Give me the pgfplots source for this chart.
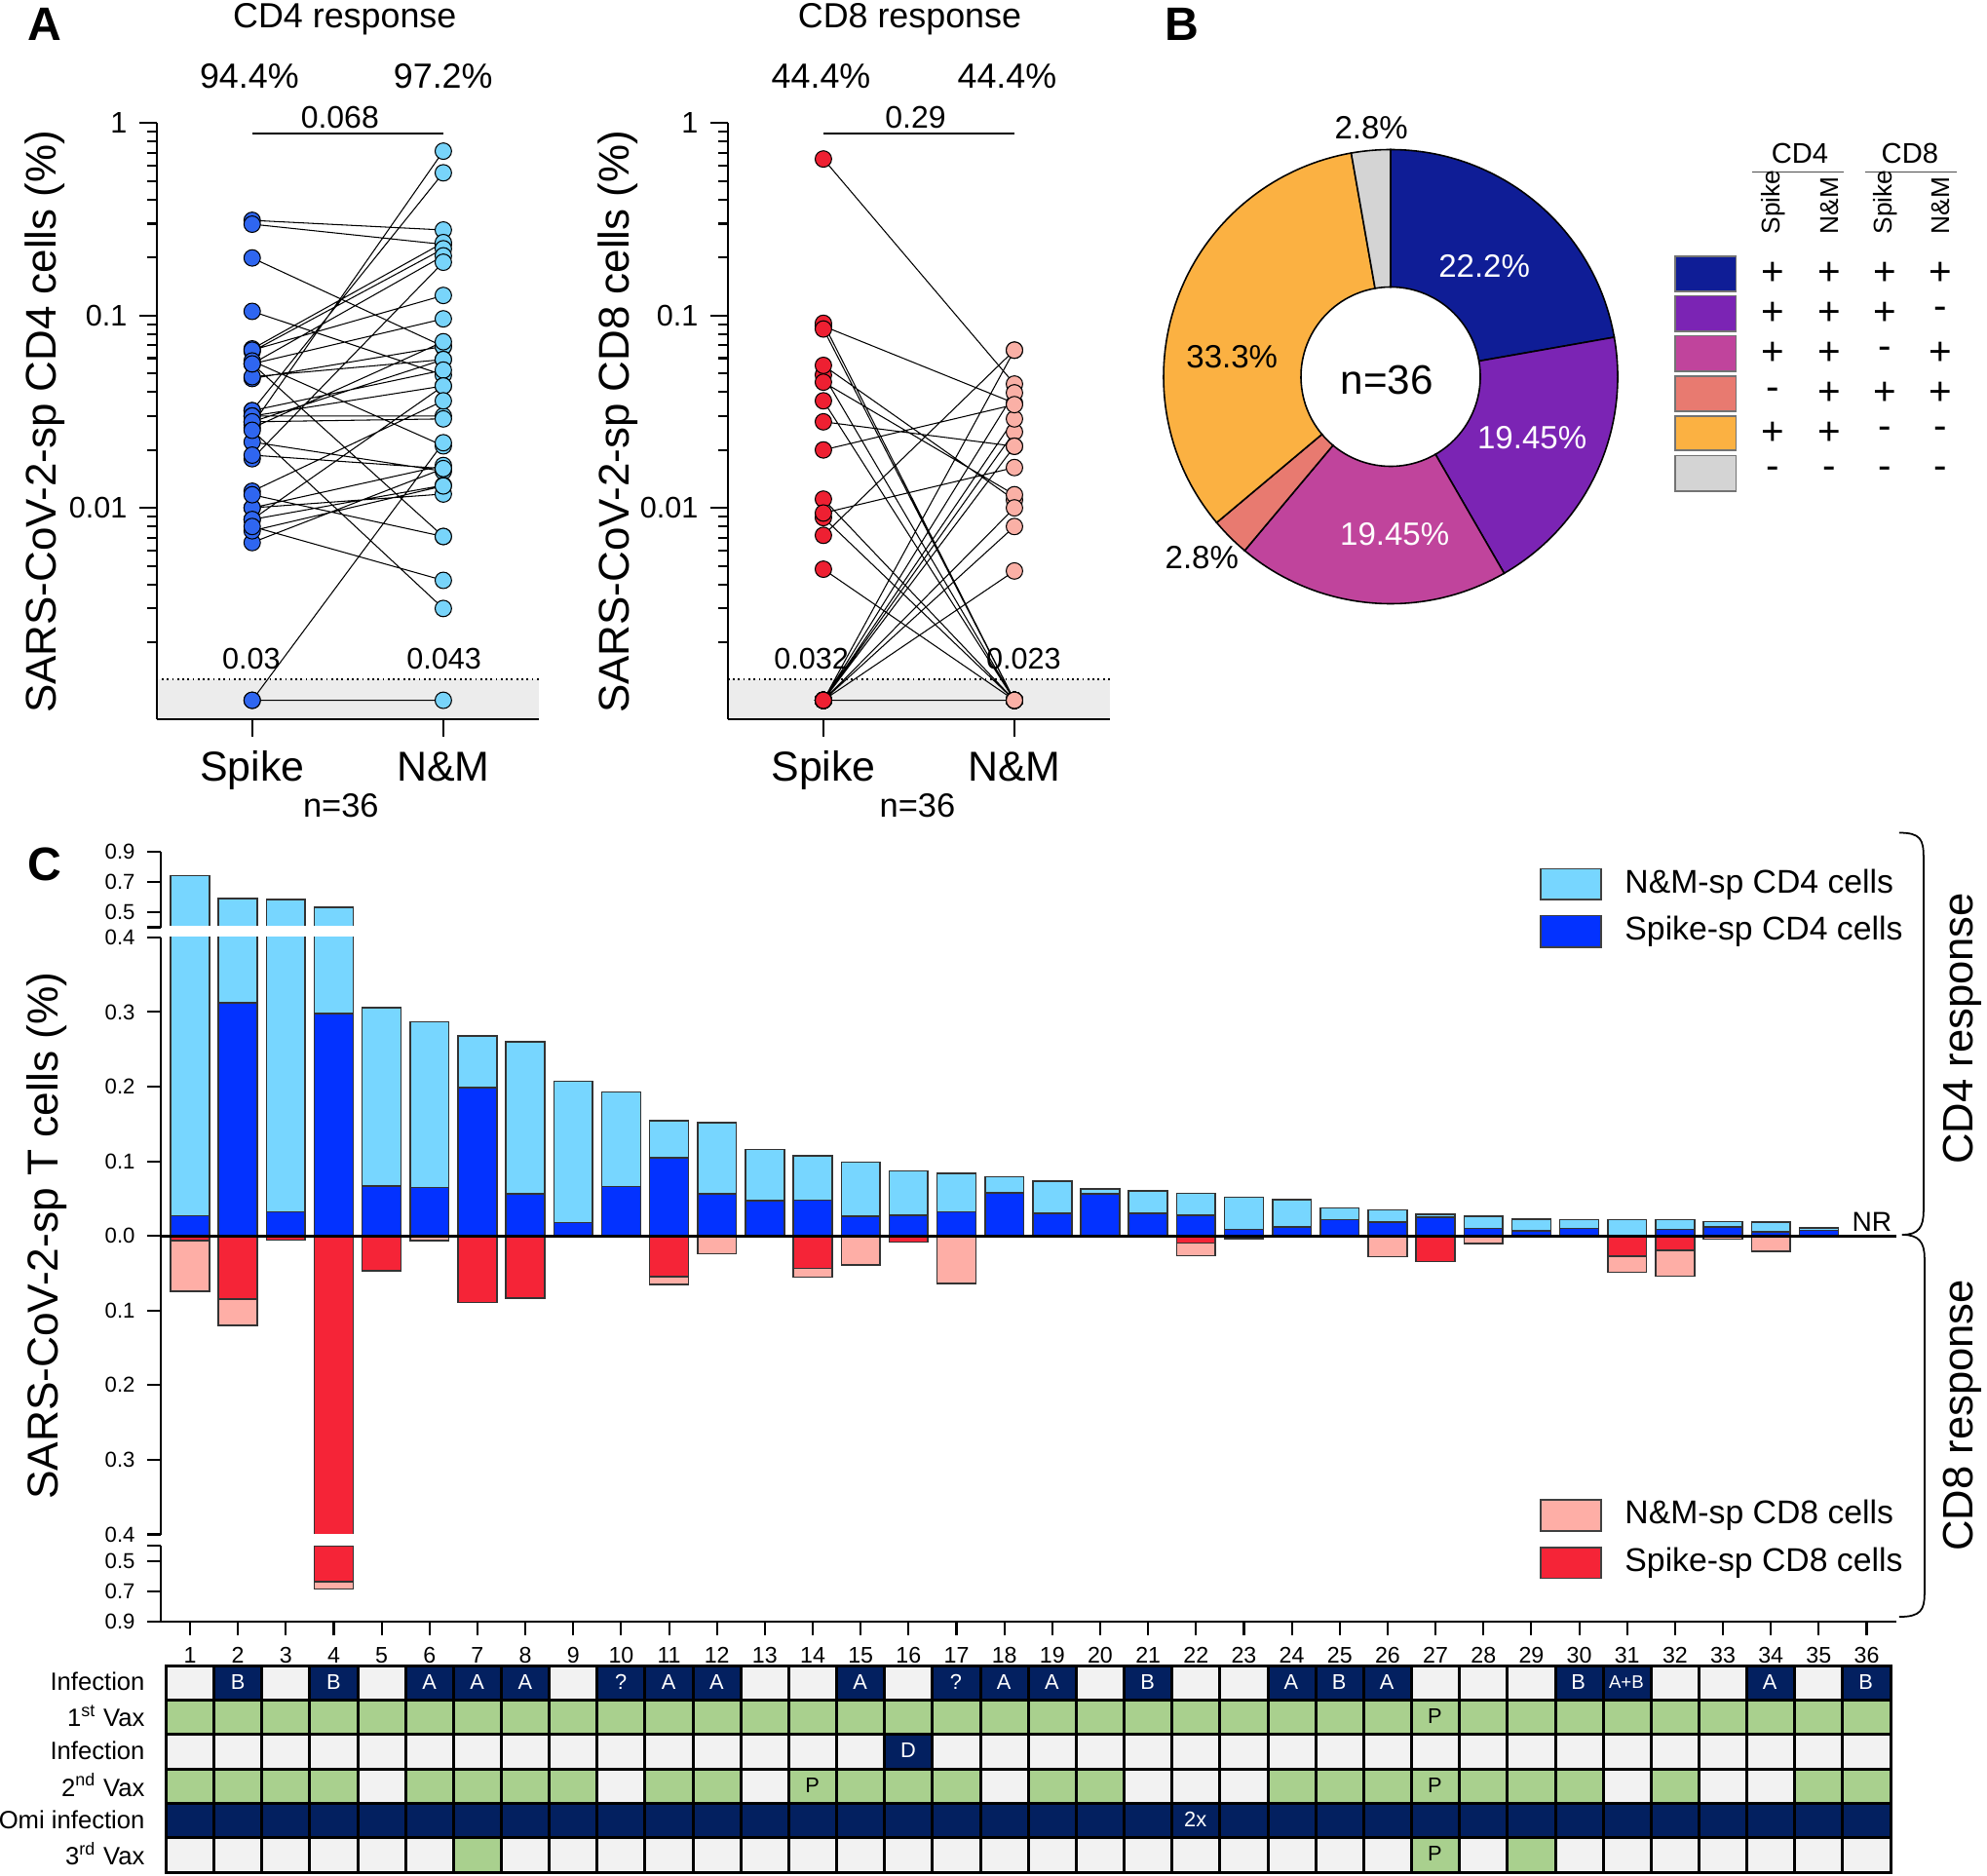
\documentclass[border=0pt]{standalone}
\usepackage{fontspec}
\setmainfont{Liberation Sans}
\usepackage{pgfplots}
\pgfplotsset{compat=1.18}
\usepackage{pgfplotstable}
\newcommand\fs[1]{\fontsize{#1}{#1}\selectfont}
\pgfkeys{/pgf/number format/assume math mode=true}

\definecolor{cdfs}{RGB}{47,102,240}
\definecolor{cdfn}{RGB}{120,212,250}
\definecolor{cdes}{RGB}{238,32,50}
\definecolor{cden}{RGB}{250,176,166}
\definecolor{barNMf}{RGB}{119,214,255}
\definecolor{barSf}{RGB}{3,50,255}
\definecolor{barSe}{RGB}{245,36,55}
\definecolor{barNMe}{RGB}{254,174,166}
\definecolor{pnavy}{RGB}{15,29,150}
\definecolor{ppurple}{RGB}{123,36,180}
\definecolor{pmag}{RGB}{192,68,156}
\definecolor{psal}{RGB}{232,122,112}
\definecolor{porange}{RGB}{251,177,66}
\definecolor{pgrey}{RGB}{212,212,212}
\definecolor{tgray}{RGB}{242,242,242}
\definecolor{tnavy}{RGB}{3,32,96}
\definecolor{tgreen}{RGB}{169,208,142}

\tikzset{tw/.style={text=white, font=\fs{6.2}}, tb/.style={text=black, font=\fs{6.2}}}

% Panel A, CD4: pairs Spike (x=1) -> N&M (x=2); NR plotted at 0.001
\pgfplotstableread{
x y
1 0.027
2 0.714
2 nan
1 0.312
2 0.278
2 nan
1 0.032
2 0.551
2 nan
1 0.298
2 0.234
2 nan
1 0.067
2 0.239
2 nan
1 0.065
2 0.222
2 nan
1 0.199
2 0.069
2 nan
1 0.056
2 0.204
2 nan
1 0.018
2 0.189
2 nan
1 0.066
2 0.127
2 nan
1 0.105
2 0.049
2 nan
1 0.056
2 0.096
2 nan
1 0.047
2 0.069
2 nan
1 0.048
2 0.059
2 nan
1 0.026
2 0.073
2 nan
1 0.028
2 0.059
2 nan
1 0.032
2 0.052
2 nan
1 0.058
2 0.021
2 nan
1 0.030
2 0.043
2 nan
1 0.056
2 0.0071
2 nan
1 0.030
2 0.030
2 nan
1 0.028
2 0.029
2 nan
1 0.0087
2 0.043
2 nan
1 0.0122
2 0.036
2 nan
1 0.022
2 0.0155
2 nan
1 0.0188
2 0.016
2 nan
1 0.0253
2 0.003
2 nan
1 0.010
2 0.0166
2 nan
1 0.0066
2 0.016
2 nan
1 0.010
2 0.0118
2 nan
1 0.001
2 0.0218
2 nan
1 0.0087
2 0.0131
2 nan
1 0.0117
2 0.0071
2 nan
1 0.0076
2 0.013
2 nan
1 0.0080
2 0.0042
2 nan
1 0.001
2 0.001
}\cdfour

% Panel A, CD8
\pgfplotstableread{
x y
1 0.0072
2 0.066
2 nan
1 0.088
2 0.035
2 nan
1 0.0111
2 0.001
2 nan
1 0.65
2 0.044
2 nan
1 0.049
2 0.001
2 nan
1 0.001
2 0.008
2 nan
1 0.091
2 0.001
2 nan
1 0.085
2 0.001
2 nan
1 0.001
2 0.001
2 nan
1 0.001
2 0.001
2 nan
1 0.055
2 0.011
2 nan
1 0.001
2 0.0248
2 nan
1 0.001
2 0.001
2 nan
1 0.045
2 0.0117
2 nan
1 0.001
2 0.0396
2 nan
1 0.0089
2 0.001
2 nan
1 0.001
2 0.066
2 nan
1 0.001
2 0.001
2 nan
1 0.001
2 0.001
2 nan
1 0.001
2 0.001
2 nan
1 0.001
2 0.001
2 nan
1 0.0094
2 0.0162
2 nan
1 0.0048
2 0.001
2 nan
1 0.001
2 0.001
2 nan
1 0.001
2 0.001
2 nan
1 0.001
2 0.029
2 nan
1 0.036
2 0.001
2 nan
1 0.001
2 0.010
2 nan
1 0.001
2 0.001
2 nan
1 0.001
2 0.001
2 nan
1 0.028
2 0.0209
2 nan
1 0.020
2 0.0344
2 nan
1 0.001
2 0.0047
2 nan
1 0.001
2 0.0209
2 nan
1 0.001
2 0.001
2 nan
1 0.001
2 0.001
}\cdeight

% Panel C: per subject CD4 spike, CD4 N&M, CD8 spike, CD8 N&M
\pgfplotstableread{
subj s4 n4 s8 n8
1 0.027 0.714 0.0065 0.068
2 0.312 0.278 0.085 0.035
3 0.032 0.551 0.0057 0
4 0.298 0.234 0.638 0.047
5 0.067 0.239 0.0465 0
6 0.065 0.222 0 0.0065
7 0.199 0.069 0.089 0
8 0.056 0.204 0.083 0
9 0.018 0.189 0 0
10 0.066 0.127 0 0
11 0.105 0.049 0.055 0.010
12 0.056 0.096 0 0.024
13 0.047 0.069 0 0
14 0.048 0.059 0.0435 0.012
15 0.026 0.073 0 0.039
16 0.028 0.059 0.008 0
17 0.032 0.052 0 0.064
18 0.058 0.021 0 0
19 0.030 0.043 0 0
20 0.056 0.007 0 0
21 0.030 0.030 0 0
22 0.028 0.029 0.0095 0.017
23 0.0087 0.043 0.004 0
24 0.0122 0.036 0 0
25 0.022 0.0155 0 0
26 0.0188 0.016 0 0.028
27 0.0253 0.004 0.0343 0
28 0.010 0.0166 0 0.0104
29 0.0065 0.016 0 0
30 0.010 0.0118 0 0
31 0 0.0218 0.0269 0.0218
32 0.0087 0.0131 0.0196 0.0344
33 0.0117 0.0075 0 0.0043
34 0.0052 0.013 0 0.0204
35 0.0074 0.0036 0 0
36 0 0 0 0
}\barsC

% Panel C table: e = none, n = infection, g = vaccination
\pgfplotstableread{
x r1 r2 r3 r4 r5 r6
1 e g e g n e
2 n g e g n e
3 e g e g n e
4 n g e g n e
5 e g e e n e
6 n g e g n e
7 n g e g n g
8 n g e g n e
9 e g e g n e
10 n g e e n e
11 n g e g n e
12 n g e g n e
13 e g e e n e
14 e g e g n e
15 n g e g n e
16 e g n g n e
17 n g e g n e
18 n g e e n e
19 n g e g n e
20 e g e g n e
21 n g e e n e
22 e g e e n e
23 e g e e n e
24 n g e g n e
25 n g e g n e
26 n g e g n e
27 e g e g n g
28 e g e g n e
29 e g e g n g
30 n g e g n e
31 n g e e n e
32 e g e g n e
33 e g e e n e
34 n g e e n e
35 e g e g n e
36 n g e g n e
}\tabC

\begin{document}
\begin{tikzpicture}
\useasboundingbox (0,0) rectangle (20.39cm,19.24cm);

% ---------------- Panel A: CD4
\begin{axis}[scale only axis, anchor=south west, at={(1.607cm,11.863cm)},
    width=3.923cm, height=6.115cm,
    ymode=log, xmin=0.5, xmax=2.5, ymin=0.0008, ymax=1,
    axis x line*=bottom, axis y line*=left,
    xtick={1,2}, xticklabels={},
    ytick={0.01,0.1,1}, yticklabels={0.01,0.1,1},
    minor ytick={0.002,0.003,0.004,0.005,0.006,0.007,0.008,0.009,0.02,0.03,0.04,0.05,0.06,0.07,0.08,0.09,0.2,0.3,0.4,0.5,0.6,0.7,0.8,0.9},
    tick align=outside, major tick length=0.18cm, minor tick length=0.1cm,
    tick style={black, line width=0.6pt},
    axis line style={line width=0.6pt},
    y tick label style={font=\fs{8.7}},
    axis on top, clip=false, unbounded coords=jump]
\fill[gray!15] (axis cs:0.5,0.0008) rectangle (axis cs:2.5,0.00129);
\draw[densely dotted, line width=0.5pt] (axis cs:0.5,0.00129) -- (axis cs:2.5,0.00129);
\addplot[black, line width=0.3pt, no marks] table[x=x,y=y] {\cdfour};
\addplot[only marks, mark=*, mark size=2.4pt, mark options={fill=cdfs, draw=black, line width=0.3pt}, restrict x to domain=0.9:1.1] table[x=x,y=y] {\cdfour};
\addplot[only marks, mark=*, mark size=2.4pt, mark options={fill=cdfn, draw=black, line width=0.3pt}, restrict x to domain=1.9:2.1] table[x=x,y=y] {\cdfour};
\draw[line width=0.45pt] (axis cs:1,0.88) -- (axis cs:2,0.88);
\end{axis}

% ---------------- Panel A: CD8
\begin{axis}[scale only axis, anchor=south west, at={(7.469cm,11.863cm)},
    width=3.921cm, height=6.115cm,
    ymode=log, xmin=0.5, xmax=2.5, ymin=0.0008, ymax=1,
    axis x line*=bottom, axis y line*=left,
    xtick={1,2}, xticklabels={},
    ytick={0.01,0.1,1}, yticklabels={0.01,0.1,1},
    minor ytick={0.002,0.003,0.004,0.005,0.006,0.007,0.008,0.009,0.02,0.03,0.04,0.05,0.06,0.07,0.08,0.09,0.2,0.3,0.4,0.5,0.6,0.7,0.8,0.9},
    tick align=outside, major tick length=0.18cm, minor tick length=0.1cm,
    tick style={black, line width=0.6pt},
    axis line style={line width=0.6pt},
    y tick label style={font=\fs{8.7}},
    axis on top, clip=false, unbounded coords=jump]
\fill[gray!15] (axis cs:0.5,0.0008) rectangle (axis cs:2.5,0.00129);
\draw[densely dotted, line width=0.5pt] (axis cs:0.5,0.00129) -- (axis cs:2.5,0.00129);
\addplot[black, line width=0.3pt, no marks] table[x=x,y=y] {\cdeight};
\addplot[only marks, mark=*, mark size=2.4pt, mark options={fill=cdes, draw=black, line width=0.3pt}, restrict x to domain=0.9:1.1] table[x=x,y=y] {\cdeight};
\addplot[only marks, mark=*, mark size=2.4pt, mark options={fill=cden, draw=black, line width=0.3pt}, restrict x to domain=1.9:2.1] table[x=x,y=y] {\cdeight};
\draw[line width=0.45pt] (axis cs:1,0.88) -- (axis cs:2,0.88);
\end{axis}

% ---------------- Panel C: upper segment (0.4 - 0.9)
\begin{axis}[scale only axis, anchor=south west, at={(1.646cm,9.725cm)},
    width=17.814cm, height=0.775cm, xmin=0.382, xmax=36.62, ymin=0.4, ymax=0.9,
    axis y line*=left, axis x line=none, xtick=\empty,
    ytick={0.4,0.5,0.7,0.9}, yticklabels={,0.5,0.7,0.9},
    tick align=outside, major tick length=0.137cm,
    tick style={black, line width=0.6pt}, axis line style={line width=0.6pt},
    y tick label style={font=\fs{6.3}}]
\addplot[ybar, bar shift=0pt, bar width=0.81, draw=black!80, line width=0.45pt, fill=barNMf, restrict y to domain=0.401:5] table[x=subj, y expr=\thisrow{s4}+\thisrow{n4}] {\barsC};
\addplot[ybar, bar shift=0pt, bar width=0.81, draw=black!80, line width=0.45pt, fill=barSf, restrict y to domain=0.401:5] table[x=subj, y=s4] {\barsC};
\end{axis}

% ---------------- Panel C: main segment (-0.4 - 0.4)
\begin{axis}[scale only axis, anchor=south west, at={(1.646cm,3.495cm)},
    width=17.814cm, height=6.127cm, xmin=0.382, xmax=36.62, ymin=-0.4, ymax=0.4,
    axis y line*=left, axis x line=none, xtick=\empty,
    ytick={-0.4,-0.3,-0.2,-0.1,0,0.1,0.2,0.3,0.4},
    yticklabels={0.4,0.3,0.2,0.1,0.0,0.1,0.2,0.3,0.4},
    tick align=outside, major tick length=0.137cm,
    tick style={black, line width=0.6pt}, axis line style={line width=0.6pt},
    y tick label style={font=\fs{6.3}}]
\addplot[ybar, bar shift=0pt, bar width=0.81, draw=black!80, line width=0.45pt, fill=barNMf] table[x=subj, y expr=\thisrow{s4}+\thisrow{n4}] {\barsC};
\addplot[ybar, bar shift=0pt, bar width=0.81, draw=black!80, line width=0.45pt, fill=barSf] table[x=subj, y=s4] {\barsC};
\addplot[ybar, bar shift=0pt, bar width=0.81, draw=black!80, line width=0.45pt, fill=barNMe] table[x=subj, y expr=-\thisrow{s8}-\thisrow{n8}] {\barsC};
\addplot[ybar, bar shift=0pt, bar width=0.81, draw=black!80, line width=0.45pt, fill=barSe] table[x=subj, y expr=-\thisrow{s8}] {\barsC};
\draw[line width=0.8pt] (axis cs:0.382,0) -- (axis cs:36.62,0);
\end{axis}

% ---------------- Panel C: lower segment (-0.9 - -0.4)
\begin{axis}[scale only axis, anchor=south west, at={(1.646cm,2.60cm)},
    width=17.814cm, height=0.78cm, xmin=0.382, xmax=36.62, ymin=-0.9, ymax=-0.4,
    axis y line*=left, axis x line*=bottom, xtick={1,...,36},
    ytick={-0.9,-0.7,-0.5,-0.4}, yticklabels={0.9,0.7,0.5,},
    tick align=outside, major tick length=0.137cm,
    tick style={black, line width=0.6pt}, axis line style={line width=0.6pt},
    y tick label style={font=\fs{6.3}}, x tick label style={font=\fs{6.6}}]
\addplot[ybar, bar shift=0pt, bar width=0.81, draw=black!80, line width=0.45pt, fill=barNMe, restrict y to domain=-5:-0.401] table[x=subj, y expr=-\thisrow{s8}-\thisrow{n8}] {\barsC};
\addplot[ybar, bar shift=0pt, bar width=0.81, draw=black!80, line width=0.45pt, fill=barSe, restrict y to domain=-5:-0.401] table[x=subj, y expr=-\thisrow{s8}] {\barsC};
\end{axis}

% ---------------- Panel C: table
\begin{axis}[scale only axis, anchor=south west, at={(1.646cm,0.03cm)},
  width=17.814cm, height=2.12cm, xmin=0.382, xmax=36.62, ymin=0.5, ymax=6.5,
  y dir=reverse, axis lines=none, clip=false]
\pgfplotsinvokeforeach{1,...,6}{
\addplot[scatter, only marks, point meta=explicit symbolic,
  scatter/classes={e={mark=square*, draw=black, fill=tgray}, n={mark=square*, draw=black, fill=tnavy}, g={mark=square*, draw=black, fill=tgreen}},
  mark size=5.027pt, mark options={line width=0.85pt, xscale=1.3914}]
  table[x=x, y expr=#1, meta=r#1] {\tabC};
}
\end{axis}

% ---------------- Panel B: donut
\begin{scope}[shift={(14.27cm,15.375cm)}]
\gdef\angstart{90}
\foreach \v/\c in {8/pnavy,7/ppurple,7/pmag,1/psal,12/porange,1/pgrey}{
  \pgfmathsetmacro\angend{\angstart-10*\v}
  \filldraw[fill=\c, draw=black, line width=0.45pt]
    (\angstart:0.92cm) -- (\angstart:2.33cm)
    arc[start angle=\angstart, end angle=\angend, radius=2.33cm]
    -- (\angend:0.92cm)
    arc[start angle=\angend, end angle=\angstart, radius=0.92cm] -- cycle;
  \global\let\angstart\angend
}
\end{scope}

% ---------------- annotations in pixel coordinates (y downward)
\begin{scope}[x=0.01cm, y=-0.01cm, shift={(0cm,19.24cm)}]
\node[font=\fs{13.7}\bfseries] at (46,25) {A};
\node[font=\fs{13.7}\bfseries] at (1214,25) {B};
\node[font=\fs{13.7}\bfseries] at (46,887) {C};

\node[font=\fs{10.2}, anchor=base] at (354,28.5) {CD4 response};
\node[font=\fs{10.2}, anchor=base] at (934,28.5) {CD8 response};
\node[font=\fs{10.2}, anchor=base] at (256,90.5) {94.4\%};
\node[font=\fs{10.2}, anchor=base] at (455,90.5) {97.2\%};
\node[font=\fs{10.2}, anchor=base] at (843,90.5) {44.4\%};
\node[font=\fs{10.2}, anchor=base] at (1034,90.5) {44.4\%};
\node[font=\fs{9.1}, anchor=base] at (349,131.6) {0.068};
\node[font=\fs{9.1}, anchor=base] at (940,131.6) {0.29};
\node[font=\fs{8.7}, anchor=base] at (258,686.7) {0.03};
\node[font=\fs{8.7}, anchor=base] at (456,686.7) {0.043};
\node[font=\fs{8.7}, anchor=base] at (833,686.7) {0.032};
\node[font=\fs{8.7}, anchor=base] at (1051,686.7) {0.023};
\node[font=\fs{12.2}, anchor=base] at (259,801.9) {Spike};
\node[font=\fs{12.2}, anchor=base] at (455,801.9) {N\&M};
\node[font=\fs{12.2}, anchor=base] at (845.6,801.9) {Spike};
\node[font=\fs{12.2}, anchor=base] at (1041.6,801.9) {N\&M};
\node[font=\fs{9.8}, anchor=base] at (350,839) {n=36};
\node[font=\fs{9.8}, anchor=base] at (942,839) {n=36};
\node[font=\fs{12.5}, rotate=90] at (46,433) {SARS-CoV-2-sp CD4 cells (\%)};
\node[font=\fs{12.5}, rotate=90] at (634,433) {SARS-CoV-2-sp CD8 cells (\%)};

\node[font=\fs{9.4}, text=white] at (1524,273) {22.2\%};
\node[font=\fs{9.4}, text=white] at (1573,449) {19.45\%};
\node[font=\fs{9.4}, text=white] at (1432,548) {19.45\%};
\node[font=\fs{9.4}] at (1265,366) {33.3\%};
\node[font=\fs{9.4}] at (1408,131) {2.8\%};
\node[font=\fs{9.4}] at (1234,572) {2.8\%};
\node[font=\fs{12}] at (1424,390) {n=36};

\node[font=\fs{8.3}] at (1848,158) {CD4};
\node[font=\fs{8.3}] at (1961,158) {CD8};
\draw[black!70, line width=0.5pt] (1799,176.5) -- (1893,176.5);
\draw[black!70, line width=0.5pt] (1915,176.5) -- (2009,176.5);
\node[font=\fs{7.5}, rotate=90, anchor=west] at (1821,253) {Spike};
\node[font=\fs{7.5}, rotate=90, anchor=west] at (1879,253) {N\&M};
\node[font=\fs{7.5}, rotate=90, anchor=west] at (1936,253) {Spike};
\node[font=\fs{7.5}, rotate=90, anchor=west] at (1993,253) {N\&M};
\foreach \yt/\yb/\c/\a/\b/\cc/\d in {263/299.3/pnavy/+/+/+/+, 303.7/340/ppurple/+/+/+/-, 344.8/381.2/pmag/+/+/-/+, 385.9/422.3/psal/-/+/+/+, 427/462.6/porange/+/+/-/-, 467.8/504/pgrey/-/-/-/-}{
  \filldraw[fill=\c, draw=black!55, line width=0.5pt] (1720,\yt) rectangle (1782.6,\yb);
  \node[font=\fs{11.5}] at (1820,{(\yt+\yb)/2}) {\a};
  \node[font=\fs{11.5}] at (1878.5,{(\yt+\yb)/2}) {\b};
  \node[font=\fs{11.5}] at (1935,{(\yt+\yb)/2}) {\cc};
  \node[font=\fs{11.5}] at (1992,{(\yt+\yb)/2}) {\d};
}

\fill[white] (168,950.6) rectangle (1946,961.4);
\fill[white] (168,1575) rectangle (1946,1587.2);

\node[font=\fs{12.6}, rotate=90] at (48,1269) {SARS-CoV-2-sp T cells (\%)};
\node[font=\fs{8}] at (1922,1255) {NR};
\node[font=\fs{12.4}, rotate=90] at (2015,1056) {CD4 response};
\node[font=\fs{12.4}, rotate=90] at (2015,1453) {CD8 response};
\draw[line width=0.5pt] (1950,855) .. controls (1972,855) and (1975,862) .. (1975,880)
  -- (1975,1243) .. controls (1975,1260) and (1970,1267.7) .. (1953,1267.7);
\draw[line width=0.5pt] (1953,1267.7) .. controls (1970,1267.7) and (1976,1275) .. (1976,1292)
  -- (1976,1636) .. controls (1976,1653) and (1972,1660) .. (1950,1660);

\filldraw[fill=barNMf, draw=black!75, line width=0.5pt] (1582,892) rectangle (1644,923.5);
\filldraw[fill=barSf, draw=black!75, line width=0.5pt] (1582,940) rectangle (1644,972.5);
\filldraw[fill=barNMe, draw=black!75, line width=0.5pt] (1582,1540) rectangle (1644,1572);
\filldraw[fill=barSe, draw=black!75, line width=0.5pt] (1582,1589) rectangle (1644,1620.5);
\node[font=\fs{9.6}, anchor=west] at (1656,908) {N\&M-sp CD4 cells};
\node[font=\fs{9.6}, anchor=west] at (1656,956) {Spike-sp CD4 cells};
\node[font=\fs{9.6}, anchor=west] at (1656,1556) {N\&M-sp CD8 cells};
\node[font=\fs{9.6}, anchor=west] at (1656,1605) {Spike-sp CD8 cells};

% table row labels
\node[font=\fs{7.3}, anchor=east] at (161,1726.7) {Infection};
\node[font=\fs{7.3}, anchor=east] at (161,1762) {1\textsuperscript{st} Vax};
\node[font=\fs{7.3}, anchor=east] at (161,1797.3) {Infection};
\node[font=\fs{7.3}, anchor=east] at (161,1832.7) {2\textsuperscript{nd} Vax};
\node[font=\fs{7.3}, anchor=east] at (161,1868) {Omi infection};
\node[font=\fs{7.3}, anchor=east] at (161,1903.3) {3\textsuperscript{rd} Vax};

% table cell texts
\foreach \i/\r/\t in {2/1/B,4/1/B,6/1/A,7/1/A,8/1/A,10/1/?,11/1/A,12/1/A,15/1/A,17/1/?,18/1/A,19/1/A,21/1/B,24/1/A,25/1/B,26/1/A,30/1/B,34/1/A,36/1/B,16/3/D,22/5/2x}{
  \node[tw] at ({195+(\i-1)*49.16},{1709+(\r-0.5)*35.33}) {\t};
}
\node[tw, font=\fs{5.3}] at ({195+30*49.16},{1709+0.5*35.33}) {A+B};
\foreach \i/\r in {27/2,14/4,27/4,27/6}{
  \node[tb] at ({195+(\i-1)*49.16},{1709+(\r-0.5)*35.33}) {P};
}
\end{scope}
\end{tikzpicture}
\end{document}
